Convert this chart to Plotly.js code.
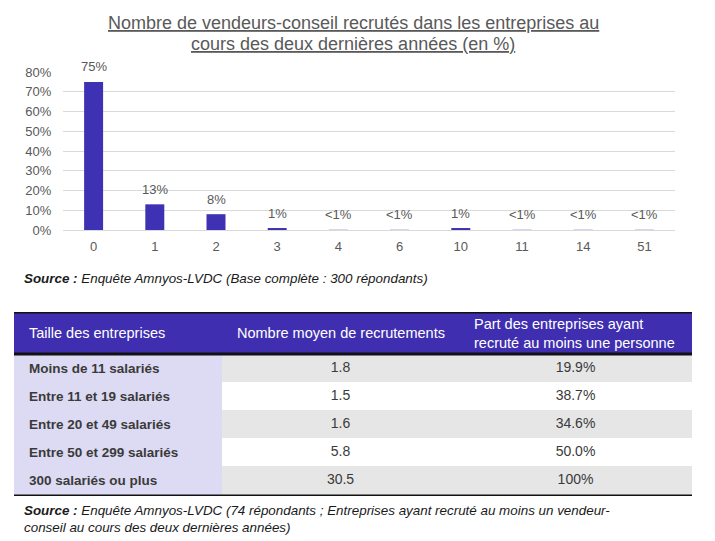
<!DOCTYPE html>
<html>
<head>
<meta charset="utf-8">
<script src="https://cdn.plot.ly/plotly-3.0.1.min.js"></script>
<style>
  html, body { margin: 0; padding: 0; background: #fff; }
  #chart { width: 715px; height: 541px; }
</style>
</head>
<body>
<div id="chart"></div>
<script>
// bar chart data
var categories = ['0', '1', '2', '3', '4', '6', '10', '11', '14', '51'];
var values = [75, 13, 8, 1, 0.1, 0.1, 1, 0.1, 0.1, 0.1];
var value_labels = ['75%', '13%', '8%', '1%', '<1%', '<1%', '1%', '<1%', '<1%', '<1%'];

// table data
var table_header = ['Taille des entreprises', 'Nombre moyen de recrutements', 'Part des entreprises ayant<br>recruté au moins une personne'];
var taille = ['Moins de 11 salariés', 'Entre 11 et 19 salariés', 'Entre 20 et 49 salariés', 'Entre 50 et 299 salariés', '300 salariés ou plus'];
var nb_moyen = ['1.8', '1.5', '1.6', '5.8', '30.5'];
var part_recrut = ['19.9%', '38.7%', '34.6%', '50.0%', '100%'];

var title_lines = ['Nombre de vendeurs-conseil recrutés dans les entreprises au', 'cours des deux dernières années (en %)'];

var W = 715, H = 541;
function px(x){ return x / W; }
function py(y){ return 1 - y / H; }

var FONT = 'Liberation Sans, Arial, sans-serif';
var PURPLE = '#3E31B3';
var HEADER_FILL = '#3F2FB0';
var GREY_TXT = '#595959';
var CELL_TXT = '#3A3A3A';

// table geometry (in table axis units = pixels)
var col_widths = [208, 237, 233];
var header_h = 42, row_h = 28;
var col_x0 = [];
var acc = 0;
for (var c = 0; c < col_widths.length; c++) { col_x0.push(acc); acc += col_widths[c]; }
var table_w = acc;
var table_h = header_h + row_h * taille.length + 2;

var row_mid = taille.map(function(_, i){ return header_h + row_h * (i + 0.5); });
function col_mid(c){ return col_x0[c] + col_widths[c] / 2; }

var bar = {
	type: 'bar',
	x: categories,
	y: values,
	marker: { color: PURPLE },
	hoverinfo: 'none',
	xaxis: 'x',
	yaxis: 'y'
};

var col2_text = {
	type: 'scatter', mode: 'text',
	x: nb_moyen.map(function(){ return col_mid(1); }),
	y: row_mid,
	text: nb_moyen,
	textposition: 'middle center',
	textfont: { family: FONT, size: 14, color: CELL_TXT },
	hoverinfo: 'none', cliponaxis: false,
	xaxis: 'x2', yaxis: 'y2'
};
var col3_text = {
	type: 'scatter', mode: 'text',
	x: part_recrut.map(function(){ return col_mid(2); }),
	y: row_mid,
	text: part_recrut,
	textposition: 'middle center',
	textfont: { family: FONT, size: 14, color: CELL_TXT },
	hoverinfo: 'none', cliponaxis: false,
	xaxis: 'x2', yaxis: 'y2'
};

var annotations = [];
var shapes = [];

// value labels above bars
for (var i = 0; i < categories.length; i++) {
	annotations.push({
		x: i, y: values[i], xref: 'x', yref: 'y',
		text: value_labels[i], showarrow: false,
		yanchor: 'middle', yshift: 15,
		font: { family: FONT, size: 13, color: GREY_TXT }
	});
}

// table header
shapes.push({ type: 'rect', xref: 'x2', yref: 'y2', x0: 0, x1: table_w, y0: 0, y1: header_h,
	fillcolor: HEADER_FILL, line: { width: 0 }, layer: 'below' });
for (var c = 0; c < table_header.length; c++) {
	annotations.push({
		xref: 'x2', yref: 'y2', x: col_x0[c] + 13, y: header_h / 2,
		xanchor: 'left', yanchor: 'middle', align: 'left',
		text: table_header[c], showarrow: false,
		font: { family: FONT, size: 14.5, color: '#FFFFFF' }
	});
}

// table body
var row_fill = ['#E6E6E6', '#FFFFFF'];
for (var r = 0; r < taille.length; r++) {
	var y0 = header_h + row_h * r, y1 = y0 + row_h;
	if (r == taille.length - 1) y1 = table_h;
	shapes.push({ type: 'rect', xref: 'x2', yref: 'y2', x0: col_x0[0], x1: col_x0[1], y0: y0, y1: y1,
		fillcolor: '#DDDAF3', line: { width: 0 }, layer: 'below' });
	shapes.push({ type: 'rect', xref: 'x2', yref: 'y2', x0: col_x0[1], x1: table_w, y0: y0, y1: y1,
		fillcolor: row_fill[r % 2], line: { width: 0 }, layer: 'below' });
	annotations.push({
		xref: 'x2', yref: 'y2', x: col_x0[0] + 13, y: row_mid[r],
		xanchor: 'left', yanchor: 'middle',
		text: '<b>' + taille[r] + '</b>', showarrow: false,
		font: { family: FONT, size: 13.5, color: CELL_TXT }
	});
}

// thick black rules
[0, header_h, table_h].forEach(function(yy){
	shapes.push({ type: 'line', xref: 'x2', yref: 'y2', x0: 0, x1: table_w, y0: yy, y1: yy,
		line: { color: '#111111', width: 3 } });
});

// title (two lines, underlined)
var title_y = [23, 44];
for (var t = 0; t < title_lines.length; t++) {
	annotations.push({
		xref: 'paper', yref: 'paper', x: px(353), y: py(title_y[t]), xanchor: 'center', yanchor: 'middle',
		text: '<span style="text-decoration:underline">' + title_lines[t] + '</span>',
		showarrow: false, align: 'center',
		font: { family: FONT, size: 18, color: GREY_TXT }
	});
}

// sources
annotations.push({
	xref: 'paper', yref: 'paper', x: px(22), y: py(278), xanchor: 'left', yanchor: 'middle',
	text: '<b><i>Source :</i></b><i> Enquête Amnyos-LVDC (Base complète : 300 répondants)</i>',
	showarrow: false, align: 'left',
	font: { family: FONT, size: 13.4, color: '#1A1A1A' }
});
annotations.push({
	xref: 'paper', yref: 'paper', x: px(22), y: py(519), xanchor: 'left', yanchor: 'middle',
	text: '<b><i>Source :</i></b><i> Enquête Amnyos-LVDC (74 répondants ; Entreprises ayant recruté au moins un vendeur-</i><br><i>conseil au cours des deux dernières années)</i>',
	showarrow: false, align: 'left',
	font: { family: FONT, size: 13.4, color: '#1A1A1A' }
});

var layout = {
	width: W,
	height: H,
	margin: { l: 0, r: 0, t: 0, b: 0 },
	paper_bgcolor: '#FFFFFF',
	plot_bgcolor: '#FFFFFF',
	showlegend: false,
	bargap: 0.69,
	xaxis: {
		type: 'category',
		domain: [px(63), px(675)],
		range: [-0.5, categories.length - 0.5],
		anchor: 'y',
		showgrid: false,
		zeroline: false,
		showline: false,
		ticks: 'outside', ticklen: 4, tickcolor: 'rgba(0,0,0,0)',
		automargin: false,
		tickfont: { family: FONT, size: 13, color: GREY_TXT }
	},
	yaxis: {
		domain: [py(230), py(72)],
		anchor: 'x',
		range: [0, 80],
		dtick: 10,
		ticksuffix: '%',
		showgrid: true,
		gridcolor: '#D9D9D9',
		gridwidth: 1,
		zeroline: true,
		zerolinecolor: '#D9D9D9',
		zerolinewidth: 1,
		showline: false,
		ticks: 'outside', ticklen: 8, tickcolor: 'rgba(0,0,0,0)',
		automargin: false,
		tickfont: { family: FONT, size: 13, color: GREY_TXT }
	},
	xaxis2: {
		domain: [px(14), px(692)],
		range: [0, table_w],
		anchor: 'y2',
		visible: false,
		fixedrange: true
	},
	yaxis2: {
		domain: [py(312 + table_h), py(312)],
		range: [table_h, 0],
		anchor: 'x2',
		visible: false,
		fixedrange: true
	},
	annotations: annotations,
	shapes: shapes
};

Plotly.newPlot('chart', [bar, col2_text, col3_text], layout, { displayModeBar: false, staticPlot: true });
</script>
</body>
</html>
